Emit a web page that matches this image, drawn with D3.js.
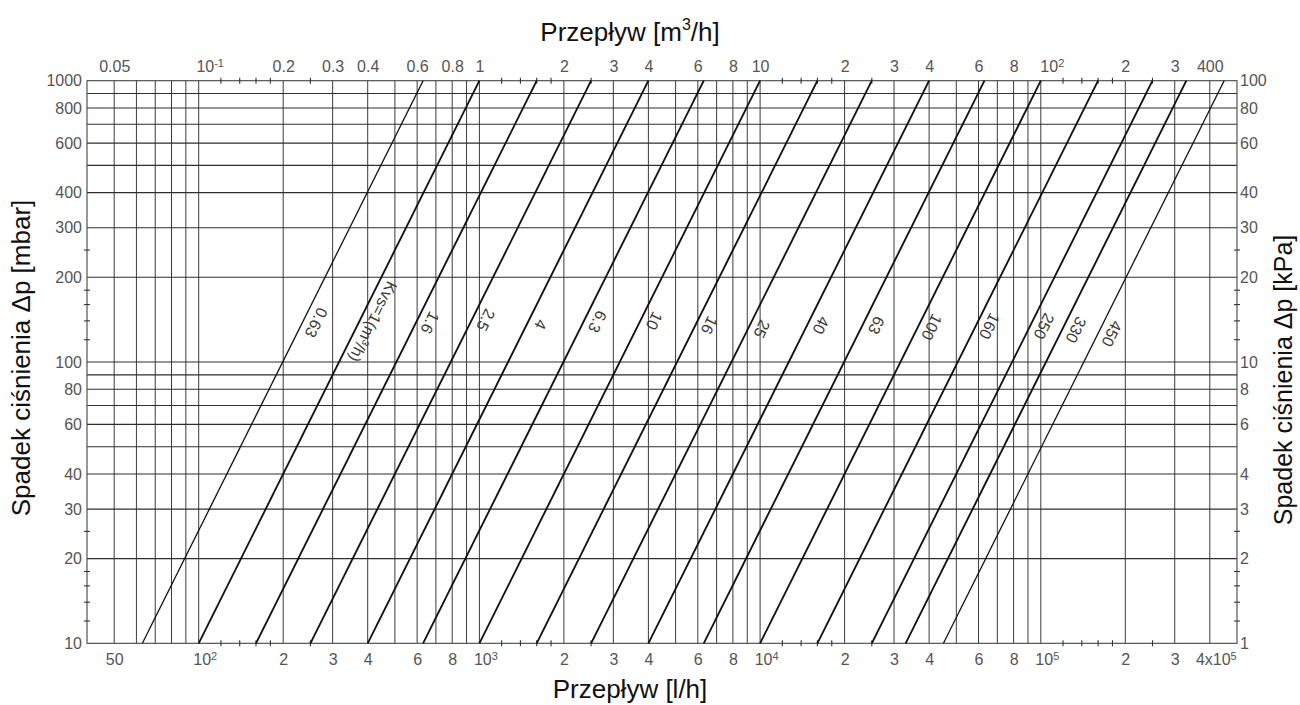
<!DOCTYPE html>
<html><head><meta charset="utf-8">
<script src="https://cdn.jsdelivr.net/npm/d3@7"></script>
<style>
body{margin:0;background:#fff}
text{font-family:"Liberation Sans", Arial, Helvetica, sans-serif}
</style>
</head><body>
<svg id="c" width="1300" height="705"></svg>
<script>
// ---------- DATA ----------
const kvsValues = [0.63, 1, 1.6, 2.5, 4, 6.3, 10, 16, 25, 40, 63, 100, 160, 250, 330, 450];
const kvsLabels = ["0.63", "Kvs=1(m^3/h)", "1.6", "2.5", "4", "6.3", "10", "16", "25", "40", "63", "100", "160", "250", "330", "450"];
const labelDp = [138, 139, 138, 141, 136, 139, 140, 135, 131, 135, 135, 133, 134, 134, 130, 126]; // mbar where label sits
const thinKvs = [0.63, 450];

const flowDomain = [40, 500000];   // l/h
const flowTopDomain = [0.04, 500]; // m3/h
const dpDomain = [10, 1000];       // mbar
const dpRightDomain = [1, 100];    // kPa

const bottomTicks = [50, 100, 200, 300, 400, 600, 800, 1000, 2000, 3000, 4000, 6000, 8000, 10000, 20000, 30000, 40000, 60000, 80000, 100000, 200000, 300000, 400000];
const bottomLabels = ["50", "10^2", "2", "3", "4", "6", "8", "10^3", "2", "3", "4", "6", "8", "10^4", "2", "3", "4", "6", "8", "10^5", "2", "3", "4x10^5"];
const topTicks = [0.05, 0.1, 0.2, 0.3, 0.4, 0.6, 0.8, 1, 2, 3, 4, 6, 8, 10, 20, 30, 40, 60, 80, 100, 200, 300, 400];
const topLabels = ["0.05", "10^-1", "0.2", "0.3", "0.4", "0.6", "0.8", "1", "2", "3", "4", "6", "8", "10", "2", "3", "4", "6", "8", "10^2", "2", "3", "400"];
const leftTicks = [10, 20, 30, 40, 60, 80, 100, 200, 300, 400, 600, 800, 1000];
const rightTicks = [1, 2, 3, 4, 6, 8, 10, 20, 30, 40, 60, 80, 100];

const vGrid = [50, 60, 70, 80, 90, 100, 200, 300, 400, 500, 600, 700, 800, 900,
  1000, 2000, 3000, 4000, 5000, 6000, 7000, 8000, 9000,
  10000, 20000, 30000, 40000, 50000, 60000, 70000, 80000, 90000,
  100000, 200000, 300000, 400000];
const hGrid = [20, 30, 40, 50, 60, 70, 80, 90, 100, 200, 300, 400, 500, 600, 700, 800, 900];
const xMinor = [120, 140, 160, 180, 250, 1200, 1400, 1600, 1800, 2500, 12000, 14000, 16000, 18000, 25000, 120000, 140000, 160000, 180000, 250000];
const yMinor = [12, 14, 16, 18, 25, 120, 140, 160, 180, 250];

// ---------- LAYOUT ----------
const L = 87, R = 1237, T = 80.7, B = 643.3;
const svg = d3.select("#c");
const x = d3.scaleLog().domain(flowDomain).range([L, R]);
const xTop = d3.scaleLog().domain(flowTopDomain).range([L, R]);
const y = d3.scaleLog().domain(dpDomain).range([B, T]);
const yR = d3.scaleLog().domain(dpRightDomain).range([B, T]);

const grid = svg.append("g");
grid.selectAll(".vg").data(vGrid).join("line")
  .attr("x1", d => x(d)).attr("x2", d => x(d)).attr("y1", T).attr("y2", B)
  .attr("stroke", "#3c3c3c").attr("stroke-width", 1);
grid.selectAll(".hg").data(hGrid).join("line")
  .attr("y1", d => y(d)).attr("y2", d => y(d)).attr("x1", L).attr("x2", R)
  .attr("stroke", "#2e2e2e").attr("stroke-width", 1.1);

// frame
svg.append("rect").attr("x", L).attr("y", T).attr("width", R - L).attr("height", B - T)
  .attr("fill", "none").attr("stroke", "#444").attr("stroke-width", 1.1);

// minor ticks crossing the frame
const mt = svg.append("g").attr("stroke", "#333").attr("stroke-width", 1.1);
[B, T].forEach(yy => {
  mt.selectAll(null).data(xMinor).join("line")
    .attr("x1", d => x(d)).attr("x2", d => x(d)).attr("y1", yy - 3).attr("y2", yy + 3);
});
[L, R].forEach(xx => {
  mt.selectAll(null).data(yMinor).join("line")
    .attr("y1", d => y(d)).attr("y2", d => y(d)).attr("x1", xx - 3).attr("x2", xx + 3);
});

// superscript helper
function setSup(sel, str, supSize) {
  sel.text(null);
  const parts = str.split("^");
  sel.append("tspan").text(parts[0]);
  if (parts.length > 1) {
    sel.append("tspan").attr("font-size", supSize).attr("dy", "-0.45em").text(parts[1]);
  }
}

function styleAxis(g, labels, dxSup) {
  g.select(".domain").remove();
  g.selectAll(".tick line").remove();
  g.selectAll(".tick text").each(function (d, i) {
    const t = d3.select(this);
    const s = labels[i];
    setSup(t, s, "11px");
    if (s.includes("^")) t.attr("dx", dxSup);
  }).attr("fill", "#555").attr("font-size", "16px");
  g.attr("font-family", null).attr("font-size", null);
}

const axB = svg.append("g").attr("transform", `translate(0,${B})`)
  .call(d3.axisBottom(x).tickValues(bottomTicks).tickSize(0).tickPadding(10));
styleAxis(axB, bottomLabels, 6);

const axT = svg.append("g").attr("transform", `translate(0,${T})`)
  .call(d3.axisTop(xTop).tickValues(topTicks).tickSize(0).tickPadding(9));
styleAxis(axT, topLabels, 11);

const axL = svg.append("g").attr("transform", `translate(${L},0)`)
  .call(d3.axisLeft(y).tickValues(leftTicks).tickSize(0).tickPadding(5).tickFormat(d3.format("d")));
styleAxis(axL, leftTicks.map(String), 0);

const axR = svg.append("g").attr("transform", `translate(${R},0)`)
  .call(d3.axisRight(yR).tickValues(rightTicks).tickSize(0).tickPadding(3).tickFormat(d3.format("d")));
styleAxis(axR, rightTicks.map(String), 0);

// ---------- KVS LINES ----------
// Q [l/h] = kvs * sqrt(dp[mbar]/1000) * 1000
const flow = (kvs, dp) => kvs * Math.sqrt(dp / 1000) * 1000;
const line = d3.line().x(p => x(p[0])).y(p => y(p[1]));
const lines = svg.append("g").attr("fill", "none").attr("stroke", "#111");
lines.selectAll("path").data(kvsValues).join("path")
  .attr("d", k => line(dpDomain.map(dp => [flow(k, dp), dp])))
  .attr("stroke-width", k => thinKvs.includes(k) ? 1.3 : 1.85);

// labels along lines
const p0 = [x(flow(1, 10)), y(10)], p1 = [x(flow(1, 1000)), y(1000)];
const ang = Math.atan2(p1[1] - p0[1], p1[0] - p0[0]) * 180 / Math.PI + 180; // reading downward
const lab = svg.append("g");
kvsValues.forEach((k, i) => {
  const cx = x(flow(k, labelDp[i])) + 14, cy = y(labelDp[i]);
  const t = lab.append("text")
    .attr("transform", `translate(${cx},${cy}) rotate(${ang})`)
    .attr("text-anchor", "middle").attr("dy", "0.35em")
    .attr("font-size", "16px").attr("fill", "#3a3a3a");
  const s = kvsLabels[i];
  if (s.includes("^")) {
    const a = s.split("^");
    t.append("tspan").text(a[0]);
    t.append("tspan").attr("font-size", "10px").attr("dy", "-0.5em").text(a[1].charAt(0));
    t.append("tspan").attr("dy", "0.33em").text(a[1].slice(1));
  } else t.text(s);
});

// ---------- TITLES ----------
const tt = svg.append("text").attr("x", 630).attr("y", 41).attr("text-anchor", "middle")
  .attr("font-size", "26px").attr("fill", "#111");
tt.append("tspan").text("Przepływ [m");
tt.append("tspan").attr("font-size", "16px").attr("dy", "-11").text("3");
tt.append("tspan").attr("dy", "11").text("/h]");

svg.append("text").attr("x", 630).attr("y", 698).attr("text-anchor", "middle")
  .attr("font-size", "26px").attr("fill", "#111").text("Przepływ [l/h]");

svg.append("text").attr("transform", "translate(30,358) rotate(-90)").attr("text-anchor", "middle")
  .attr("font-size", "26px").attr("fill", "#111").text("Spadek ciśnienia Δp [mbar]");
svg.append("text").attr("transform", "translate(1292,380) rotate(-90)").attr("text-anchor", "middle")
  .attr("font-size", "25px").attr("fill", "#111").text("Spadek ciśnienia Δp [kPa]");
</script>
</body></html>
